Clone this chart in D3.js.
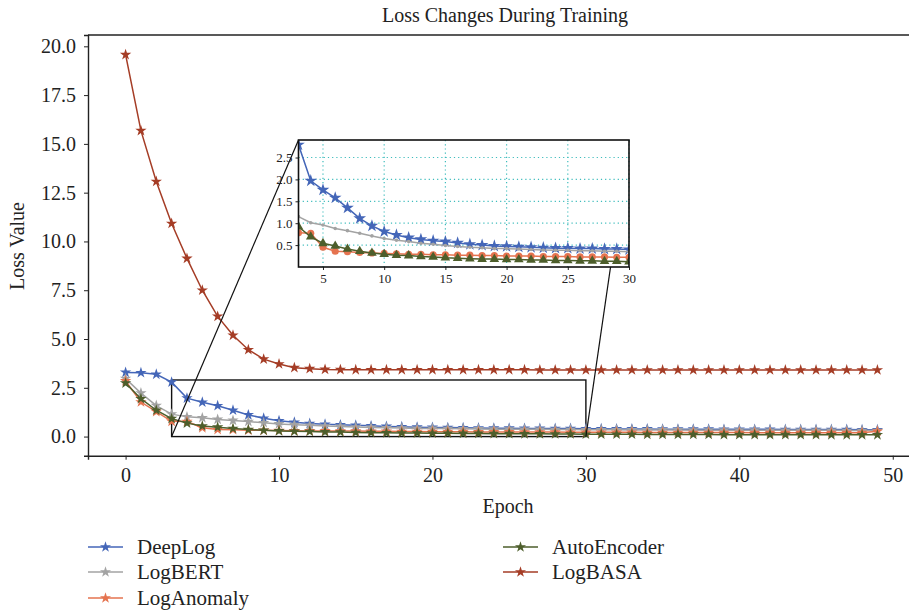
<!DOCTYPE html>
<html>
<head>
<meta charset="utf-8">
<script src="https://cdn.jsdelivr.net/npm/d3@7"></script>
<style>
  body { margin: 0; background: #fff; }
  svg { display: block; font-family: "Liberation Serif", "DejaVu Serif", serif; }
</style>
</head>
<body>
<div id="chart"></div>
<script>
// data
const epochs = d3.range(0, 50);
const deepLog = [3.29, 3.27, 3.19, 2.79, 1.97, 1.76, 1.58, 1.35, 1.11, 0.94,
  0.81, 0.73, 0.67, 0.63, 0.60, 0.58, 0.55, 0.52, 0.50, 0.48,
  0.47, 0.46, 0.45, 0.44, 0.43, 0.43, 0.42, 0.42, 0.41, 0.41,
  0.40, 0.40, 0.39, 0.39, 0.39, 0.38, 0.38, 0.38, 0.38, 0.37,
  0.37, 0.37, 0.37, 0.36, 0.36, 0.36, 0.36, 0.36, 0.35, 0.35];
const logBERT = [2.97, 2.23, 1.59, 1.15, 1.01, 0.96, 0.88, 0.83, 0.77, 0.71,
  0.65, 0.61, 0.58, 0.54, 0.52, 0.49, 0.47, 0.45, 0.44, 0.42,
  0.42, 0.41, 0.40, 0.39, 0.38, 0.38, 0.37, 0.37, 0.36, 0.36,
  0.35, 0.35, 0.35, 0.34, 0.34, 0.34, 0.34, 0.33, 0.33, 0.33,
  0.33, 0.33, 0.32, 0.32, 0.32, 0.32, 0.32, 0.31, 0.31, 0.31];
const logAnomaly = [2.85, 1.77, 1.28, 0.78, 0.77, 0.45, 0.36, 0.35, 0.33, 0.32,
  0.31, 0.30, 0.29, 0.29, 0.28, 0.28, 0.27, 0.27, 0.26, 0.26,
  0.25, 0.25, 0.25, 0.24, 0.24, 0.24, 0.23, 0.23, 0.23, 0.22,
  0.22, 0.22, 0.22, 0.22, 0.21, 0.21, 0.21, 0.21, 0.21, 0.21,
  0.21, 0.20, 0.20, 0.20, 0.20, 0.20, 0.20, 0.20, 0.20, 0.27];
const autoEncoder = [2.74, 1.94, 1.35, 0.92, 0.69, 0.54, 0.48, 0.41, 0.36, 0.32,
  0.29, 0.27, 0.26, 0.24, 0.23, 0.21, 0.20, 0.19, 0.18, 0.18,
  0.17, 0.17, 0.16, 0.16, 0.15, 0.15, 0.14, 0.14, 0.13, 0.13,
  0.12, 0.12, 0.12, 0.12, 0.11, 0.11, 0.11, 0.11, 0.11, 0.10,
  0.10, 0.10, 0.10, 0.10, 0.10, 0.10, 0.09, 0.09, 0.09, 0.09];
const logBASA = [19.57, 15.68, 13.07, 10.92, 9.13, 7.50, 6.16, 5.19, 4.45, 3.97,
  3.72, 3.53, 3.48, 3.44, 3.43, 3.42, 3.42, 3.42, 3.42, 3.42,
  3.42, 3.42, 3.42, 3.42, 3.42, 3.42, 3.42, 3.41, 3.41, 3.41,
  3.41, 3.41, 3.41, 3.41, 3.41, 3.41, 3.41, 3.41, 3.41, 3.41,
  3.41, 3.41, 3.41, 3.41, 3.41, 3.41, 3.41, 3.41, 3.41, 3.41];

const seriesNames = ["DeepLog", "LogBERT", "LogAnomaly", "AutoEncoder", "LogBASA"];
const seriesValues = [deepLog, logBERT, logAnomaly, autoEncoder, logBASA];
const seriesColors = ["#4466b8", "#a3a3a3", "#e5734f", "#4d5e2b", "#a53d26"];
const insetMarkers = ["star", "dot", "circle", "triangle", null];

const xTicks = [0, 10, 20, 30, 40, 50];
const yTicks = [0, 2.5, 5, 7.5, 10, 12.5, 15, 17.5, 20];
const insetXTicks = [5, 10, 15, 20, 25, 30];
const insetYTicks = [0.5, 1.0, 1.5, 2.0, 2.5];
const zoomBox = {x0: 3, x1: 30, y0: 0, y1: 2.9};

const W = 909, H = 616;
const svg = d3.select("#chart").append("svg").attr("width", W).attr("height", H);

// main axes
const x = d3.scaleLinear().domain([-2.45, 51.45]).range([88, 915]);
const y = d3.scaleLinear().domain([-0.98, 20.58]).range([455.7, 35]);

const series = seriesNames.map((name, i) => ({
  name, color: seriesColors[i], marker: insetMarkers[i],
  points: epochs.map(e => ({e, v: seriesValues[i][e]}))
}));

svg.append("text").attr("x", 505).attr("y", 22).attr("text-anchor", "middle")
  .attr("font-size", 20).attr("fill", "#222").text("Loss Changes During Training");

const gx = svg.append("g").attr("transform", "translate(0,455.7)")
  .call(d3.axisBottom(x).tickValues(xTicks).tickSize(4).tickPadding(8).tickFormat(d3.format("d")));
const gy = svg.append("g").attr("transform", "translate(88,0)")
  .call(d3.axisLeft(y).tickValues(yTicks).tickSize(4).tickPadding(8).tickFormat(d3.format(".1f")));
[gx, gy].forEach(g => {
  g.select(".domain").attr("stroke", "#222").attr("stroke-width", 1.4);
  g.selectAll(".tick line").attr("stroke", "#222");
  g.selectAll(".tick text").attr("font-size", 20).attr("fill", "#222")
    .attr("font-family", "Liberation Serif, serif");
});
// top spine
svg.append("line").attr("x1", 88).attr("x2", 915).attr("y1", 35).attr("y2", 35)
  .attr("stroke", "#222").attr("stroke-width", 1.4);

svg.append("text").attr("x", 508).attr("y", 513).attr("text-anchor", "middle")
  .attr("font-size", 20).attr("fill", "#222").text("Epoch");
svg.append("text").attr("transform", "translate(24,246) rotate(-90)").attr("text-anchor", "middle")
  .attr("font-size", 20).attr("fill", "#222").text("Loss Value");

// zoom box and connectors
const boxG = svg.append("g");
boxG.append("rect")
  .attr("x", x(zoomBox.x0)).attr("y", y(zoomBox.y1))
  .attr("width", x(zoomBox.x1) - x(zoomBox.x0)).attr("height", y(zoomBox.y0) - y(zoomBox.y1))
  .attr("fill", "none").attr("stroke", "#111").attr("stroke-width", 1.4);

const star = d3.symbol().type(d3.symbolStar);
const line = d3.line().x(d => x(d.e)).y(d => y(d.v));

const mainG = svg.append("g");
series.forEach(s => {
  const g = mainG.append("g");
  g.append("path").datum(s.points).attr("d", line).attr("fill", "none")
    .attr("stroke", s.color).attr("stroke-width", 1.5);
  g.selectAll("path.m").data(s.points).join("path").attr("class", "m")
    .attr("transform", d => `translate(${x(d.e)},${y(d.v)})`)
    .attr("d", star.size(40)()).attr("fill", s.color);
});

// inset
const ix = d3.scaleLinear().domain([3, 30]).range([298.5, 629]);
const iy = d3.scaleLinear().domain([0, 2.9]).range([267, 140]);

svg.append("line").attr("x1", x(zoomBox.x0)).attr("y1", y(zoomBox.y0))
  .attr("x2", ix.range()[0]).attr("y2", iy.range()[1]).attr("stroke", "#111").attr("stroke-width", 1.2);
svg.append("line").attr("x1", x(zoomBox.x1)).attr("y1", y(zoomBox.y0))
  .attr("x2", ix.range()[1]).attr("y2", iy.range()[1]).attr("stroke", "#111").attr("stroke-width", 1.2);

const inset = svg.append("g");
inset.append("rect").attr("x", 298.5).attr("y", 140).attr("width", 629 - 298.5).attr("height", 127)
  .attr("fill", "#fff");
inset.append("clipPath").attr("id", "clipInset").append("rect")
  .attr("x", 298.5).attr("y", 140).attr("width", 629 - 298.5).attr("height", 127);

// dotted grid
inset.append("g").selectAll("line").data(insetXTicks).join("line")
  .attr("x1", d => ix(d)).attr("x2", d => ix(d)).attr("y1", 140).attr("y2", 267)
  .attr("stroke", "#3dbcbc").attr("stroke-width", 1.2).attr("stroke-dasharray", "1.2,3");
inset.append("g").selectAll("line").data(insetYTicks).join("line")
  .attr("x1", 298.5).attr("x2", 629).attr("y1", d => iy(d)).attr("y2", d => iy(d))
  .attr("stroke", "#3dbcbc").attr("stroke-width", 1.2).attr("stroke-dasharray", "1.2,3");

const iline = d3.line().x(d => ix(d.e)).y(d => iy(d.v));
const plotG = inset.append("g").attr("clip-path", "url(#clipInset)");
series.filter(s => s.marker).forEach(s => {
  const pts = s.points.filter(d => d.e >= 3 && d.e <= 30);
  const g = plotG.append("g");
  g.append("path").datum(pts).attr("d", iline).attr("fill", "none")
    .attr("stroke", s.color).attr("stroke-width", 1.5);
  const m = g.selectAll("path.m").data(pts).join("path").attr("class", "m")
    .attr("transform", d => `translate(${ix(d.e)},${iy(d.v)})`).attr("fill", s.color);
  if (s.marker === "star") m.attr("d", d3.symbol().type(d3.symbolStar).size(50)());
  if (s.marker === "dot") m.attr("d", d3.symbol().type(d3.symbolCircle).size(10)());
  if (s.marker === "circle") m.attr("d", d3.symbol().type(d3.symbolCircle).size(40)());
  if (s.marker === "triangle") m.attr("d", d3.symbol().type(d3.symbolTriangle).size(40)());
});

const igx = inset.append("g").attr("transform", "translate(0,267)")
  .call(d3.axisBottom(ix).tickValues(insetXTicks).tickSize(3).tickPadding(4));
const igy = inset.append("g").attr("transform", "translate(298.5,0)")
  .call(d3.axisLeft(iy).tickValues(insetYTicks).tickSize(3).tickPadding(3).tickFormat(d3.format(".1f")));
[igx, igy].forEach(g => {
  g.select(".domain").remove();
  g.selectAll(".tick line").attr("stroke", "#222");
  g.selectAll(".tick text").attr("font-size", 13).attr("fill", "#222")
    .attr("font-family", "Liberation Serif, serif");
});
inset.append("rect").attr("x", 298.5).attr("y", 140).attr("width", 629 - 298.5).attr("height", 127)
  .attr("fill", "none").attr("stroke", "#111").attr("stroke-width", 1.6);

// legend
const legendPos = [[88, 547], [88, 572], [88, 598], [503, 547], [503, 572]];
const legend = svg.append("g");
series.forEach((s, i) => {
  const [lx, ly] = legendPos[i];
  const g = legend.append("g").attr("transform", `translate(${lx},${ly})`);
  g.append("line").attr("x1", 0).attr("x2", 35).attr("stroke", s.color).attr("stroke-width", 1.5);
  g.append("path").attr("transform", "translate(17.5,0)").attr("d", star.size(38)()).attr("fill", s.color);
  g.append("text").attr("x", 49).attr("y", 7).attr("font-size", 21).attr("fill", "#222").text(s.name);
});
</script>
</body>
</html>
